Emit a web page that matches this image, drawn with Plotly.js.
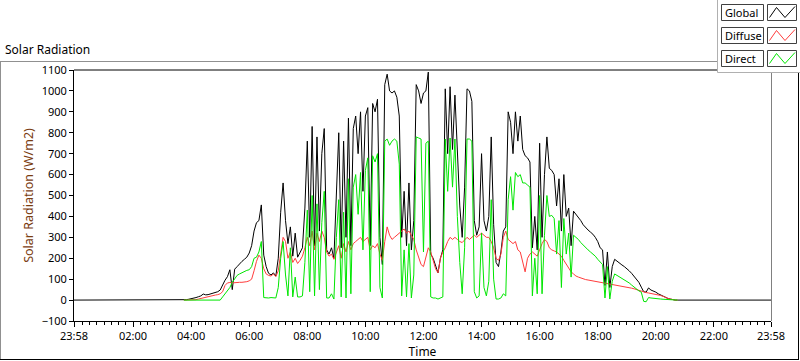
<!DOCTYPE html>
<html><head><meta charset="utf-8">
<script src="https://cdn.plot.ly/plotly-3.0.1.min.js"></script>
<style>html,body{margin:0;padding:0;background:#fff;} #chart{width:800px;height:361px;}</style>
</head><body><div id="chart"></div>
<script>
// ---- data ----
const dayDate = '2024-01-02';
const axisStart = '2024-01-01 23:58';
const axisEnd = '2024-01-02 23:58';
const startMinute = 225;   // first sample 03:45
const stepMinutes = 5;     // sample interval
const nightValue = 0;

const globalW = [
 0,2,4,6,10,12,16,20,29,25,26,30,33,37,40,48,
 75,95,112,145,50,148,160,175,185,195,205,225,
 260,330,370,380,455,215,160,128,120,130,115,200,
 420,560,380,270,350,210,320,205,230,250,440,760,
 300,830,260,780,330,700,820,240,220,250,200,530,
 800,250,760,300,870,260,820,880,700,900,520,880,
 920,260,940,900,960,300,170,1030,1080,1000,990,1000,
 970,880,300,520,260,560,240,380,1030,1000,940,990,
 1000,1090,220,200,160,130,200,240,1010,700,1020,720,
 980,680,450,300,540,1010,1000,950,380,310,350,700,
 380,330,400,780,360,180,160,230,330,350,900,850,
 700,900,760,880,720,690,680,660,250,400,240,750,
 300,600,780,630,620,600,450,580,330,600,400,440,
 260,425,410,400,380,360,345,335,325,315,300,280,
 250,240,70,230,60,160,195,185,175,168,160,152,
 140,128,115,100,85,62,40,38,58,48,44,38,
 30,24,18,12,8,5,2,0,0
];
const diffuseW = [
 0,0,0,0,0,2,5,8,10,14,18,20,22,24,26,30,
 40,70,82,84,82,84,84,85,85,86,88,92,
 100,140,185,215,200,150,125,118,115,125,112,140,
 230,300,280,200,230,180,200,175,190,210,250,300,
 260,330,240,320,280,330,300,230,210,220,195,230,
 260,200,270,230,280,240,270,280,290,300,280,290,
 300,240,260,250,270,220,190,280,350,310,290,300,
 310,320,330,340,320,330,310,290,240,200,170,160,
 200,250,230,190,150,130,200,230,250,280,300,290,
 300,290,280,275,290,300,290,300,310,300,310,320,
 310,300,300,280,250,200,190,220,300,330,290,280,
 270,280,240,230,180,135,200,220,230,220,210,240,
 270,290,280,250,240,235,230,220,210,190,170,150,
 135,125,115,110,105,100,98,96,94,92,90,88,
 86,84,80,78,76,74,72,70,68,66,64,62,
 60,57,54,50,46,42,38,36,34,32,30,28,
 25,22,18,12,8,5,2,0,0
];
const directW = [
 0,0,0,0,0,0,0,0,0,0,0,0,0,0,0,0,
 15,30,45,60,85,105,118,125,132,138,142,145,
 160,200,205,230,280,12,10,10,12,10,10,60,
 200,280,120,20,250,15,110,15,15,20,180,430,
 40,500,20,460,50,370,520,10,10,30,5,300,
 480,15,420,10,580,30,540,600,410,610,240,620,
 680,40,690,660,700,60,10,760,770,740,760,770,
 760,650,20,240,15,270,10,120,780,775,770,230,
 750,760,15,10,10,5,10,15,770,520,775,540,
 770,400,180,30,250,770,770,760,40,10,20,320,
 60,20,90,480,100,5,5,10,30,20,480,590,
 430,610,590,600,560,560,550,540,20,200,30,500,
 30,310,500,400,405,390,220,380,60,390,220,320,
 110,310,300,290,275,262,250,240,230,222,210,195,
 180,170,10,160,5,90,125,118,110,104,98,90,
 82,72,62,52,44,38,-6,-8,12,10,8,8,
 6,5,4,3,2,1,0,0,0
];
const tickLabels = ['23:58','02:00','04:00','06:00','08:00','10:00','12:00','14:00','16:00','18:00','20:00','22:00','23:58'];
const tickTimes = [axisStart,'2024-01-02 02:00','2024-01-02 04:00','2024-01-02 06:00','2024-01-02 08:00','2024-01-02 10:00','2024-01-02 12:00','2024-01-02 14:00','2024-01-02 16:00','2024-01-02 18:00','2024-01-02 20:00','2024-01-02 22:00',axisEnd];
const seriesNames = ['Global','Diffuse','Direct'];
const seriesColors = ['#000000','#ff3c3c','#00e600'];

// ---- build ----
function stamp(min){const h=Math.floor(min/60),m=min%60;return dayDate+' '+String(h).padStart(2,'0')+':'+String(m).padStart(2,'0');}
const times = globalW.map((_,i)=>stamp(startMinute+i*stepMinutes));
const minorTimes=[];
for(let m=15;m<1440;m+=15){ if(m%120!==0) minorTimes.push(stamp(m)); }

const W=800,H=361,L=74,R=29,T=70,B=40;
const pw=W-L-R, ph=H-T-B;
const px=x=>(x-L)/pw, py=y=>(H-B-y)/ph;
const FONT='Noto Sans, Open Sans, sans-serif';

const traces=[
 {x:[axisStart,...times,axisEnd], y:[nightValue,...globalW,nightValue], name:seriesNames[0], mode:'lines', line:{color:seriesColors[0],width:1}},
 {x:times, y:diffuseW, name:seriesNames[1], mode:'lines', line:{color:seriesColors[1],width:1}},
 {x:times, y:directW, name:seriesNames[2], mode:'lines', line:{color:seriesColors[2],width:1}}
];

const shapes=[
 {type:'line',xref:'paper',yref:'paper',x0:0,x1:1,y0:1,y1:1,line:{color:'#000',width:1}},
 {type:'line',xref:'paper',yref:'paper',x0:px(771.5),x1:px(771.5),y0:py(72),y1:py(321),line:{color:'#808080',width:1}},
 {type:'line',xref:'paper',yref:'paper',x0:px(0),x1:px(717),y0:py(61.5),y1:py(61.5),line:{color:'#909090',width:1}},
 {type:'line',xref:'paper',yref:'paper',x0:px(0.5),x1:px(0.5),y0:py(61.5),y1:py(360),line:{color:'#909090',width:1}},
 {type:'line',xref:'paper',yref:'paper',x0:px(798.5),x1:px(798.5),y0:py(72),y1:py(360),line:{color:'#000',width:1}},
 {type:'line',xref:'paper',yref:'paper',x0:px(0),x1:px(799),y0:py(359.5),y1:py(359.5),line:{color:'#000',width:1}},
 {type:'rect',xref:'paper',yref:'paper',x0:px(717.5),x1:px(801),y0:py(72.5),y1:py(-1),fillcolor:'#ffffff',line:{color:'#b0b0b0',width:1}}
];
const annotations=[];
const rows=[4,27,50];
rows.forEach((r,k)=>{
 shapes.push({type:'rect',xref:'paper',yref:'paper',x0:px(721.5),x1:px(763.5),y0:py(r+16.5),y1:py(r+0.5),fillcolor:'#fff',line:{color:'#404040',width:1}});
 shapes.push({type:'rect',xref:'paper',yref:'paper',x0:px(767.5),x1:px(796.5),y0:py(r+16.5),y1:py(r+0.5),fillcolor:'#fff',line:{color:'#404040',width:1}});
 const p=[[769.5,r+13.5],[776.5,r+3.5],[785,r+13.5],[795,r+2.5]];
 shapes.push({type:'path',xref:'paper',yref:'paper',path:'M'+p.map(q=>px(q[0])+','+py(q[1])).join(' L'),line:{color:seriesColors[k],width:1}});
 annotations.push({xref:'paper',yref:'paper',x:px(723),y:py(r+8.5),xanchor:'left',yanchor:'middle',showarrow:false,text:seriesNames[k],font:{family:FONT,size:11,color:'#000'}});
});

const layout={
 width:W,height:H,margin:{l:L,r:R,t:T,b:B},
 paper_bgcolor:'#fff',plot_bgcolor:'#fff',showlegend:false,
 font:{family:FONT,size:11,color:'#000'},
 title:{text:'Solar Radiation',xref:'container',yref:'container',x:5/W,xanchor:'left',y:1-50/H,yanchor:'middle',font:{family:FONT,size:12,color:'#000'}},
 xaxis:{type:'date',range:[axisStart,axisEnd],tickmode:'array',tickvals:tickTimes,ticktext:tickLabels,
   ticks:'outside',ticklen:5,tickcolor:'#000',showline:true,linecolor:'#000',linewidth:1,showgrid:false,zeroline:false,
   tickfont:{family:FONT,size:11,color:'#000'},
   minor:{tickmode:'array',tickvals:minorTimes,ticks:'outside',ticklen:3,tickcolor:'#000',showgrid:false},
   title:{text:'Time',font:{family:FONT,size:12,color:'#000'},standoff:4}},
 yaxis:{range:[-100,1100],tickmode:'linear',tick0:0,dtick:100,ticks:'outside',ticklen:4,tickcolor:'#000',
   showline:true,linecolor:'#000',linewidth:1,showgrid:false,zeroline:false,
   tickfont:{family:FONT,size:11,color:'#000'},
   title:{text:'Solar Radiation (W/m2)',font:{family:FONT,size:12.5,color:'#7a3c10'},standoff:5}},
 shapes:shapes,annotations:annotations
};
Plotly.newPlot('chart',traces,layout,{displayModeBar:false,staticPlot:true});
</script></body></html>
